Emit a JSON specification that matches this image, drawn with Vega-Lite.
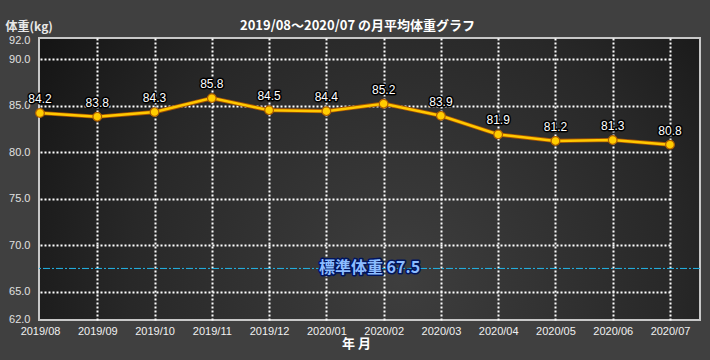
{
  "$schema": "https://vega.github.io/schema/vega-lite/v6.json",
  "width": 661,
  "height": 282,
  "autosize": {"type": "none"},
  "padding": {"left": 39, "top": 38, "right": 10, "bottom": 40},
  "background": "#404040",
  "config": {
    "view": {
      "fill": {"gradient": "radial", "x1": 0.55, "y1": 0.65, "r1": 0, "x2": 0.55, "y2": 0.65, "r2": 0.75,
        "stops": [{"offset": 0, "color": "#3e3e3e"}, {"offset": 0.55, "color": "#282828"}, {"offset": 1, "color": "#0d0d0d"}]},
      "stroke": "#c8c8c8",
      "strokeWidth": 2
    },
    "font": "Liberation Sans"
  },
  "title": {
    "text": "2019/08～2020/07 の月平均体重グラフ",
    "font": "Noto Sans CJK JP",
    "fontSize": 13,
    "fontWeight": "bold",
    "color": "#ffffff",
    "offset": -13,
    "dx": -12
  },
  "datasets": {
    "weights": [
      {"month": "2019/08", "weight": 84.2},
      {"month": "2019/09", "weight": 83.8},
      {"month": "2019/10", "weight": 84.3},
      {"month": "2019/11", "weight": 85.8},
      {"month": "2019/12", "weight": 84.5},
      {"month": "2020/01", "weight": 84.4},
      {"month": "2020/02", "weight": 85.2},
      {"month": "2020/03", "weight": 83.9},
      {"month": "2020/04", "weight": 81.9},
      {"month": "2020/05", "weight": 81.2},
      {"month": "2020/06", "weight": 81.3},
      {"month": "2020/07", "weight": 80.8}
    ],
    "standard": [{"label": "標準体重 67.5", "weight": 67.5}]
  },
  "layer": [
    {
      "data": {"name": "weights"},
      "mark": {"type": "line", "color": "#a85400", "strokeWidth": 4.2},
      "encoding": {
        "x": {
          "field": "month", "type": "ordinal", "sort": null,
          "scale": {"type": "point", "range": [1, 631], "padding": 0},
          "axis": {
            "title": "年 月",
            "labelColor": "#f0f0f0", "labelFontSize": 11, "labelAngle": 0, "labelPadding": 5,
            "ticks": false, "domain": false,
            "grid": true, "gridColor": "#ffffff", "gridDash": [2, 2], "gridWidth": 2,
            "gridOpacity": {"condition": {"test": "datum.value === '2019/08'", "value": 0}, "value": 1},
            "titleFont": "Noto Sans CJK JP", "titleFontSize": 13, "titleFontWeight": "bold", "titleColor": "#ffffff",
            "titleX": 317, "titleY": 23, "titleBaseline": "middle"
          }
        },
        "y": {
          "field": "weight", "type": "quantitative",
          "scale": {"domain": [61.96, 92.26], "nice": false, "zero": false},
          "axis": {
            "title": "体重(kg)",
            "values": [62, 65, 70, 75, 80, 85, 90, 92],
            "format": ".1f",
            "labelColor": "#e0e0e0", "labelFontSize": 11, "labelPadding": 9,
            "ticks": false, "domain": false,
            "grid": true, "gridColor": "#ffffff", "gridDash": [2, 2], "gridWidth": 2,
            "gridOpacity": {"condition": {"test": "datum.value == 62 || datum.value == 92", "value": 0}, "value": 1},
            "titleFont": "Noto Sans CJK JP", "titleFontSize": 12, "titleFontWeight": "bold", "titleColor": "#e8e8e8",
            "titleAngle": 0, "titleAlign": "left", "titleBaseline": "middle", "titleX": -34, "titleY": -12
          }
        }
      }
    },
    {
      "data": {"name": "standard"},
      "mark": {"type": "rule", "color": "#22b4e6", "strokeWidth": 1, "strokeDash": [7, 2, 2, 2]},
      "encoding": {"y": {"field": "weight", "type": "quantitative"}}
    },
    {
      "data": {"name": "standard"},
      "mark": {"type": "text", "font": "Noto Sans CJK JP", "fontSize": 16, "fontWeight": "bold", "color": "#00145e", "stroke": "#00145e", "strokeWidth": 3, "strokeJoin": "round", "baseline": "middle", "align": "center"},
      "encoding": {"y": {"field": "weight", "type": "quantitative"}, "text": {"field": "label"}}
    },
    {
      "data": {"name": "standard"},
      "mark": {"type": "text", "font": "Noto Sans CJK JP", "fontSize": 16, "fontWeight": "bold", "color": "#8cbcff", "baseline": "middle", "align": "center"},
      "encoding": {"y": {"field": "weight", "type": "quantitative"}, "text": {"field": "label"}}
    },
    {
      "data": {"name": "weights"},
      "mark": {"type": "line", "color": "#ffc800", "strokeWidth": 2.5},
      "encoding": {
        "x": {"field": "month", "type": "ordinal", "sort": null},
        "y": {"field": "weight", "type": "quantitative"}
      }
    },
    {
      "data": {"name": "weights"},
      "mark": {"type": "point", "filled": true, "size": 75, "fill": "#ffcc00", "stroke": "#b06000", "strokeWidth": 1.2, "opacity": 1},
      "encoding": {
        "x": {"field": "month", "type": "ordinal", "sort": null},
        "y": {"field": "weight", "type": "quantitative"}
      }
    },
    {
      "data": {"name": "weights"},
      "mark": {"type": "text", "fontSize": 12, "dy": -14, "baseline": "middle", "color": "#000000", "stroke": "#000000", "strokeWidth": 3, "strokeJoin": "round"},
      "encoding": {
        "x": {"field": "month", "type": "ordinal", "sort": null},
        "y": {"field": "weight", "type": "quantitative"},
        "text": {"field": "weight", "type": "quantitative", "format": ".1f"}
      }
    },
    {
      "data": {"name": "weights"},
      "mark": {"type": "text", "fontSize": 12, "dy": -14, "baseline": "middle", "color": "#ffffff"},
      "encoding": {
        "x": {"field": "month", "type": "ordinal", "sort": null},
        "y": {"field": "weight", "type": "quantitative"},
        "text": {"field": "weight", "type": "quantitative", "format": ".1f"}
      }
    }
  ]
}
